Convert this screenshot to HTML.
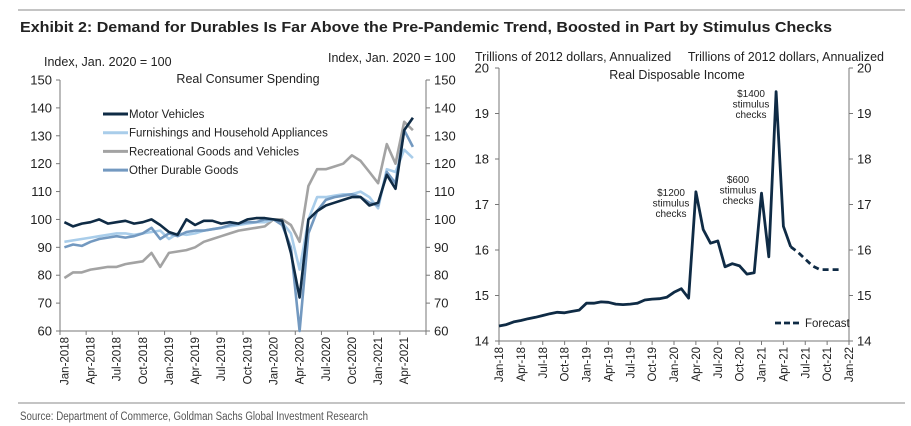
<!DOCTYPE html>
<html><head><meta charset="utf-8"><style>
html,body{margin:0;padding:0;background:#fff;}
svg{display:block;font-family:"Liberation Sans",Arial,sans-serif;}
</style></head><body>
<svg id="c" width="911" height="426" viewBox="0 0 911 426">
<line x1="18" y1="10" x2="905" y2="10" stroke="#888" stroke-width="1"/>
<text x="20" y="32" font-size="15" font-weight="bold" fill="#222" textLength="812" lengthAdjust="spacingAndGlyphs">Exhibit 2: Demand for Durables Is Far Above the Pre-Pandemic Trend, Boosted in Part by Stimulus Checks</text>
<line x1="18" y1="403" x2="905" y2="403" stroke="#888" stroke-width="1"/>
<text x="20" y="420" font-size="11.5" fill="#555" textLength="348" lengthAdjust="spacingAndGlyphs">Source: Department of Commerce, Goldman Sachs Global Investment Research</text>
<g id="left"></g>
<g id="right"></g>
</svg>
<script>
// ---- Left chart data ----
const leftMonths = ["Jan-2018","Apr-2018","Jul-2018","Oct-2018","Jan-2019","Apr-2019","Jul-2019","Oct-2019","Jan-2020","Apr-2020","Jul-2020","Oct-2020","Jan-2021","Apr-2021"];
const leftTicks = [60,70,80,90,100,110,120,130,140,150];
const motorVehicles = [99,97.5,98.5,99,100,98.5,99,99.5,98.5,99,100,98, 95.5,94.5,100,98,99.5,99.5,98.5,99,98.5,100,100.5,100.5, 100,99.5,88,72,100,103,105,106,107,108,108,105, 106,116,111,132,136.5];
const furnishings = [92,92.5,93,93.5,94,94.5,95,95,94.5,95,95.5,96, 93,95,94.5,95,96,96.5,97,97.5,98,98.5,99,99, 100,99,95,82,100,108,108,108.5,109,109,110,108, 104,118,117,125,122];
const recreational = [79,81,81,82,82.5,83,83,84,84.5,85,88,83, 88,88.5,89,90,92,93,94,95,96,96.5,97,97.5, 100,100,98,92,112,118,118,119,120,123,121,117, 113,127,120,135,132];
const otherDurable = [90,91,90.5,92,93,93.5,94,93.5,94,95,97,93, 95,94,95.5,96,96,96.5,97,98,98.5,99,99,100, 100,98,90,60,95,103,107,108,108.5,109,108,106, 105,117,113,132,126];
// ---- Right chart data ----
const rightMonths = ["Jan-18","Apr-18","Jul-18","Oct-18","Jan-19","Apr-19","Jul-19","Oct-19","Jan-20","Apr-20","Jul-20","Oct-20","Jan-21","Apr-21","Jul-21","Oct-21","Jan-22"];
const rightTicks = [14,15,16,17,18,19,20];
const incomeActual = [14.33,14.36,14.42,14.45,14.49,14.52,14.56,14.60,14.63,14.62,14.65,14.68, 14.83,14.83,14.86,14.85,14.81,14.80,14.81,14.83,14.90,14.92,14.93,14.96, 15.07,15.15,14.94,17.28,16.45,16.15,16.2,15.63,15.7,15.65,15.47,15.5, 17.25,15.85,19.48,16.52,16.07];
const incomeForecast = [16.07,15.95,15.8,15.65,15.57,15.57,15.57,15.57];

const NS="http://www.w3.org/2000/svg";
function mk(parent,tag,attrs,text){const e=document.createElementNS(NS,tag);for(const k in attrs)e.setAttribute(k,attrs[k]);if(text!==undefined)e.textContent=text;parent.appendChild(e);return e;}

// ===== LEFT =====
const L=document.getElementById('left');
const lx0=60,lx1=426,ly0=331,ly1=80,lN=42;
const lxs=i=>lx0+(lx1-lx0)/lN*(i+0.5);
const lys=v=>ly0-(v-60)/(150-60)*(ly0-ly1);
let e;
e=mk(L,'line',{x1:lx0,y1:ly1,x2:lx0,y2:ly0,stroke:'#777'});


e=mk(L,'line',{x1:lx1,y1:ly1,x2:lx1,y2:ly0,stroke:'#777'});


e=mk(L,'line',{x1:lx0,y1:ly0,x2:lx1,y2:ly0,stroke:'#777'});


leftTicks.forEach(v=>{
  const y=lys(v);
  mk(L,'line',{x1:lx0-4,y1:y,x2:lx0,y2:y,stroke:'#777'});
  mk(L,'line',{x1:lx1,y1:y,x2:lx1+4,y2:y,stroke:'#777'});
  e=mk(L,'text',{x:lx0-8,y:y+4.5,'font-size':13,'text-anchor':'end',fill:'#222'},String(v));
  
  
  e=mk(L,'text',{x:lx1+8,y:y+4.5,'font-size':13,'text-anchor':'start',fill:'#222'},String(v));
  
  
});
for(let k=0;k<=lN/3;k++){const x=lx0+(lx1-lx0)/lN*3*k;mk(L,'line',{x1:x,y1:ly0,x2:x,y2:ly0+4,stroke:'#777'});}
leftMonths.forEach((m,k)=>{
  const x=lxs(k*3)+4;
  e=mk(L,'text',{x:0,y:0,'font-size':11.5,'text-anchor':'end',fill:'#222',transform:`translate(${x},${ly0+6}) rotate(-90)`},m);
  
  
});
e=mk(L,'text',{x:44,y:66,'font-size':12.5,fill:'#222'},'Index, Jan. 2020 = 100');


e=mk(L,'text',{x:328,y:62,'font-size':12.5,fill:'#222'},'Index, Jan. 2020 = 100');


e=mk(L,'text',{x:248,y:83,'font-size':12.5,'text-anchor':'middle',fill:'#222'},'Real Consumer Spending');


const series=[[recreational,'#a3a3a3','Recreational Goods and Vehicles'],[furnishings,'#a9cdea','Furnishings and Household Appliances'],[otherDurable,'#7399c0','Other Durable Goods'],[motorVehicles,'#0f2b45','Motor Vehicles']];
series.forEach(([d,c,n])=>{
  e=mk(L,'polyline',{points:d.map((v,i)=>lxs(i).toFixed(1)+','+lys(v).toFixed(1)).join(' '),fill:'none',stroke:c,'stroke-width':2.6,'stroke-linejoin':'round'});
  
  
});
const legend=[['Motor Vehicles','#0f2b45'],['Furnishings and Household Appliances','#a9cdea'],['Recreational Goods and Vehicles','#a3a3a3'],['Other Durable Goods','#7399c0']];
legend.forEach(([n,c],k)=>{
  const y=114+k*18.7;
  mk(L,'line',{x1:103,y1:y,x2:128,y2:y,stroke:c,'stroke-width':3});
  e=mk(L,'text',{x:129,y:y+4,'font-size':11.5,fill:'#222'},n);
  
  
});

// ===== RIGHT =====
const R=document.getElementById('right');
const rx0=499,rx1=849,ry0=341,ry1=68,rN=48;
const rxs=i=>rx0+(rx1-rx0)/rN*i;
const rys=v=>ry0-(v-14)/(20-14)*(ry0-ry1);
e=mk(R,'line',{x1:rx0,y1:ry1,x2:rx0,y2:ry0,stroke:'#777'});


e=mk(R,'line',{x1:rx1,y1:ry1,x2:rx1,y2:ry0,stroke:'#777'});


e=mk(R,'line',{x1:rx0,y1:ry0,x2:rx1,y2:ry0,stroke:'#777'});


rightTicks.forEach(v=>{
  const y=rys(v);
  mk(R,'line',{x1:rx0-4,y1:y,x2:rx0,y2:y,stroke:'#777'});
  mk(R,'line',{x1:rx1,y1:y,x2:rx1+4,y2:y,stroke:'#777'});
  e=mk(R,'text',{x:rx0-10,y:y+4.5,'font-size':13,'text-anchor':'end',fill:'#222'},String(v));
  
  
  e=mk(R,'text',{x:rx1+8,y:y+4.5,'font-size':13,'text-anchor':'start',fill:'#222'},String(v));
  
  
});
rightMonths.forEach((m,k)=>{
  const x=rxs(k*3);
  mk(R,'line',{x1:x,y1:ry0,x2:x,y2:ry0+4,stroke:'#777'});
  e=mk(R,'text',{x:0,y:0,'font-size':11.5,'text-anchor':'end',fill:'#222',transform:`translate(${x+4},${ry0+6}) rotate(-90)`},m);
  
  
});
e=mk(R,'text',{x:475,y:61,'font-size':12.5,fill:'#222'},'Trillions of 2012 dollars, Annualized');


e=mk(R,'text',{x:884,y:61,'font-size':12.5,'text-anchor':'end',fill:'#222'},'Trillions of 2012 dollars, Annualized');


e=mk(R,'text',{x:677,y:79,'font-size':12.5,'text-anchor':'middle',fill:'#222'},'Real Disposable Income');


e=mk(R,'polyline',{points:incomeActual.map((v,i)=>rxs(i).toFixed(1)+','+rys(v).toFixed(1)).join(' '),fill:'none',stroke:'#0f2b45','stroke-width':2.8,'stroke-linejoin':'round'});


const f0=incomeActual.length-1;
e=mk(R,'polyline',{points:incomeForecast.map((v,i)=>rxs(f0+i).toFixed(1)+','+rys(v).toFixed(1)).join(' '),fill:'none',stroke:'#0f2b45','stroke-width':2.8,'stroke-dasharray':'6,4'});


const notes=[['$1200','stimulus','checks',671,196],['$600','stimulus','checks',738,183],['$1400','stimulus','checks',751,97]];
notes.forEach(([a,b,c,x,y])=>{
  e=mk(R,'text',{x:x,y:y,'font-size':10,'text-anchor':'middle',fill:'#222'});
  
  
  [a,b,c].forEach((t,j)=>mk(e,'tspan',{x:x,dy:j?10.5:0},t));
});
mk(R,'line',{x1:775,y1:323,x2:801,y2:323,stroke:'#0f2b45','stroke-width':2.8,'stroke-dasharray':'6,3'});
e=mk(R,'text',{x:805,y:327,'font-size':11.5,fill:'#222'},'Forecast');


</script>
</body></html>
